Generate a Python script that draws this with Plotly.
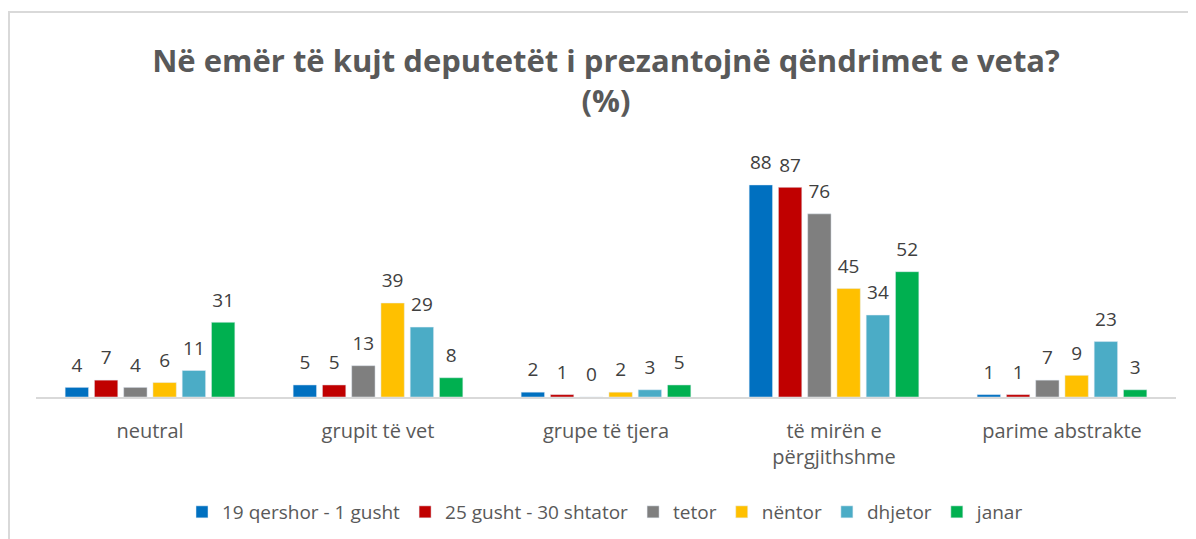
import plotly.graph_objects as go

categories = ["neutral", "grupit të vet", "grupe të tjera", "të mirën e<br>përgjithshme", "parime abstrakte"]
series_names = ["19 qershor - 1 gusht", "25 gusht - 30 shtator", "tetor", "nëntor", "dhjetor", "janar"]
colors = ["#0070C0", "#C00000", "#7F7F7F", "#FFC000", "#4BACC6", "#00B050"]

s_qershor = [4, 5, 2, 88, 1]
s_gusht = [7, 5, 1, 87, 1]
s_tetor = [4, 13, 0, 76, 7]
s_nentor = [6, 39, 2, 45, 9]
s_dhjetor = [11, 29, 3, 34, 23]
s_janar = [31, 8, 5, 52, 3]
series_values = [s_qershor, s_gusht, s_tetor, s_nentor, s_dhjetor, s_janar]

FONT = "Open Sans"
GREY = "#595959"
GAP = 0.23

fig = go.Figure()
for i, (name, vals, col) in enumerate(zip(series_names, series_values, colors)):
    fig.add_trace(go.Bar(
        x=categories, y=vals, name=name, marker_color=col,
        offsetgroup=str(i),
    ))
for i, (name, vals) in enumerate(zip(series_names, series_values)):
    fig.add_trace(go.Scatter(
        x=categories, y=vals, mode="markers+text", offsetgroup=str(i),
        marker=dict(size=16, color="rgba(0,0,0,0)"),
        text=[str(v) for v in vals], textposition="top center",
        textfont=dict(family=FONT, size=19, color="#404040"),
        showlegend=False, hoverinfo="skip", cliponaxis=False,
    ))

# the page body adds an 8px offset; compensate
OFF = 8
L, R, T, B = 36 - OFF, 20 + OFF, 140 - OFF, 142 + OFF
W, H = 1196, 539
pw = W - L - R
ph = H - T - B

fig.update_layout(
    width=W, height=H,
    margin=dict(l=L, r=R, t=T, b=B),
    paper_bgcolor="white", plot_bgcolor="white",
    barmode="group", bargap=GAP, bargroupgap=0.2,
    scattermode="group", scattergap=GAP,
    title=dict(text="<b>Në emër të kujt deputetët i prezantojnë qëndrimet e veta?<br>(%)</b>",
               x=0.5, xanchor="center", y=0.882, yanchor="top",
               font=dict(family=FONT, size=31, color=GREY)),
    legend=dict(orientation="h", x=0.5, xanchor="center", y=(T + ph - (512 - OFF)) / ph,
                yanchor="middle",
                font=dict(family=FONT, size=19, color=GREY), itemwidth=30,
                traceorder="normal"),
    xaxis=dict(showline=True, linecolor="#D9D9D9", linewidth=2, ticks="",
               tickfont=dict(family=FONT, size=20, color=GREY), showgrid=False,
               ticklabelstandoff=15),
    yaxis=dict(range=[0, ph / 2.41], visible=False, showgrid=False, zeroline=False),
    showlegend=True,
    shapes=[dict(type="rect", xref="paper", yref="paper",
                 x0=(9 - OFF - L) / pw, x1=(W + 20 - L) / pw,
                 y0=(T + ph - (H + 20)) / ph, y1=(T + ph - (12 - OFF)) / ph,
                 line=dict(color="#D9D9D9", width=2), fillcolor="rgba(0,0,0,0)", layer="below")],
)

fig.write_html("out.html")
